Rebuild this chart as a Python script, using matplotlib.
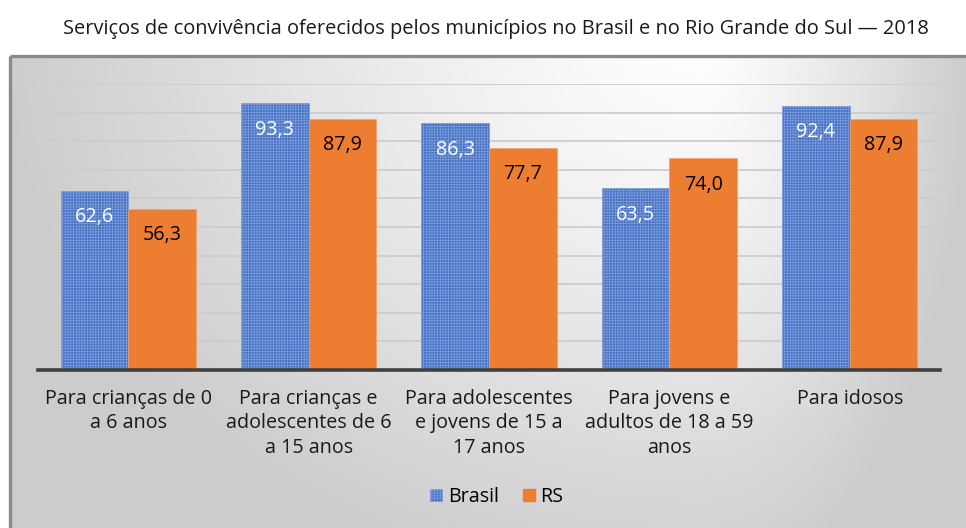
import numpy as np
import matplotlib
matplotlib.use("Agg")
import matplotlib.pyplot as plt
from matplotlib.patches import Rectangle, Patch

plt.rcParams['font.family'] = ['Open Sans', 'DejaVu Sans']
plt.rcParams['hatch.linewidth'] = 0.5

categories = ['Para crianças de 0\na 6 anos',
              'Para crianças e\nadolescentes de 6\na 15 anos',
              'Para adolescentes\ne jovens de 15 a\n17 anos',
              'Para jovens e\nadultos de 18 a 59\nanos',
              'Para idosos']
brasil = [62.6, 93.3, 86.3, 63.5, 92.4]
rs = [56.3, 87.9, 77.7, 74.0, 87.9]
series_names = ['Brasil', 'RS']
title = 'Serviços de convivência oferecidos pelos municípios no Brasil e no Rio Grande do Sul — 2018'

W, H = 966, 528
fig = plt.figure(figsize=(W / 100, H / 100), dpi=100)

# background frame with an off-centre gradient (white near top, grey to the edges)
bg = fig.add_axes([0, 0, 1, 1], zorder=0)
bg.axis('off')
yy, xx = np.mgrid[0:H, 0:W].astype(float)
dx = xx - 700
sx = np.where(dx > 0, 270.0, 700.0)
r = np.sqrt((dx / sx) ** 2 + ((yy - 40) / 560.0) ** 2)
shade = 1.0 - 0.2 * np.minimum(r, 1.0) ** 1.2
img = np.dstack([shade, shade, shade])
im = bg.imshow(img, extent=(0, W, H, 0), aspect='auto', interpolation='bilinear')
frame = Rectangle((10, 56), W + 10, H, facecolor='none', edgecolor='#8a8a8a', lw=2.4)
bg.add_patch(frame)
im.set_clip_path(frame)
bg.set_xlim(0, W)
bg.set_ylim(H, 0)

fig.text(496 / W, 1 - 29 / H, title, ha='center', va='center', fontsize=14.4, color='#1a1a1a')

ax = fig.add_axes([38 / W, (H - 370) / H, (940 - 38) / W, (370 - 84) / H], zorder=1)
ax.set_facecolor('none')
x = np.arange(len(categories))
bw = 0.375
b1 = ax.bar(x - bw / 2, brasil, bw, color='#4472C4', edgecolor='#7f9ddc', hatch='++++++', lw=0.5, zorder=2)
b2 = ax.bar(x + bw / 2, rs, bw, color='#ED7D31', edgecolor='#f0a070', lw=0.5, zorder=2)

for rect, v in zip(b1, brasil):
    ax.annotate(f'{v:.1f}'.replace('.', ','), (rect.get_x() + rect.get_width() / 2, v),
                xytext=(0, -19), textcoords='offset points', ha='center', va='center',
                fontsize=14.2, color='white', zorder=3)
for rect, v in zip(b2, rs):
    ax.annotate(f'{v:.1f}'.replace('.', ','), (rect.get_x() + rect.get_width() / 2, v),
                xytext=(0, -19), textcoords='offset points', ha='center', va='center',
                fontsize=14.2, color='black', zorder=3)

ax.set_xlim(-0.5, len(categories) - 0.5)
ax.set_ylim(0, 100)
ax.set_yticks(np.arange(10, 101, 10))
ax.yaxis.grid(True, color='#cdcdcd', lw=1.3, zorder=0)
ax.set_axisbelow(True)
ax.tick_params(axis='y', left=False, labelleft=False)
ax.set_xticks(x)
ax.set_xticklabels(categories, fontsize=14.2, color='#1a1a1a', linespacing=1.27)
ax.tick_params(axis='x', length=0, pad=14)
for s in ['top', 'right', 'left']:
    ax.spines[s].set_visible(False)
ax.spines['bottom'].set_color('#404040')
ax.spines['bottom'].set_linewidth(2.6)

handles = [Patch(facecolor='#4472C4', edgecolor='#7f9ddc', hatch='++++++', lw=0.5),
           Patch(facecolor='#ED7D31', edgecolor='#ED7D31')]
fig.legend(handles, series_names, loc='center', bbox_to_anchor=(497 / W, 1 - 497 / H),
           ncol=2, frameon=False, fontsize=14.2, handlelength=0.6, handleheight=0.6,
           handletextpad=0.3, columnspacing=1.2)

fig.savefig('out.png', dpi=100)
